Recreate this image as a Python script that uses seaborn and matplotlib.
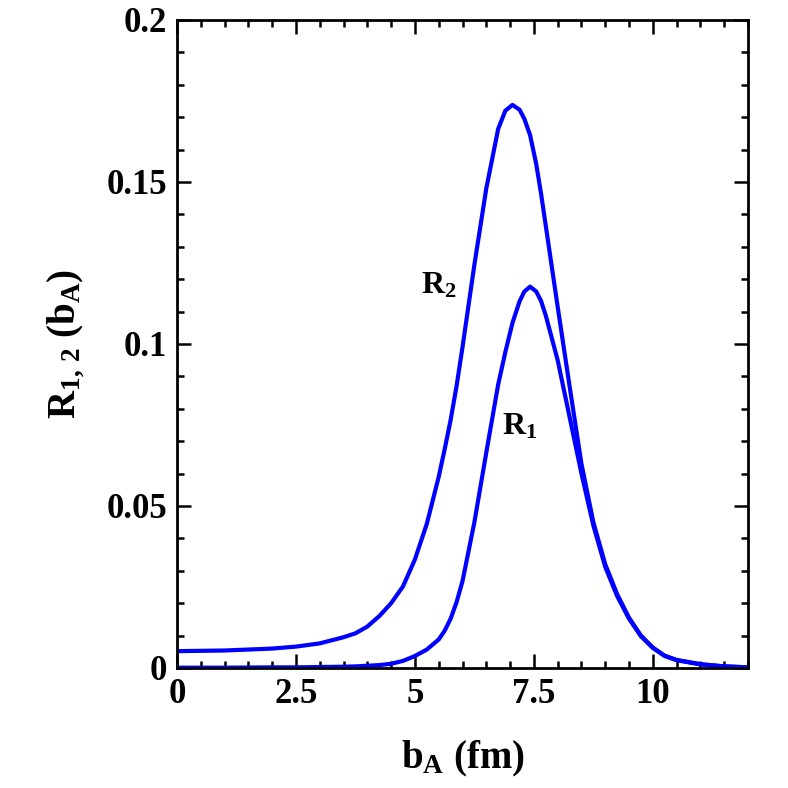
import numpy as np
import pandas as pd
import seaborn as sns
import matplotlib
matplotlib.use("Agg")
import matplotlib.pyplot as plt
from matplotlib.ticker import MultipleLocator

b_A = [0, 1, 2, 2.5, 3, 3.5, 3.75, 4, 4.25, 4.5, 4.75, 5, 5.25, 5.5, 5.625, 5.75, 5.875, 6,
       6.25, 6.5, 6.75, 6.9, 7.05, 7.2, 7.3, 7.42, 7.55, 7.65, 7.75, 8, 8.25, 8.5, 8.75,
       9, 9.25, 9.5, 9.75, 10, 10.25, 10.5, 11, 11.5, 12]
R1 = [0.0001, 0.0001, 0.0002, 0.0002, 0.0003, 0.0004, 0.0005, 0.0007, 0.0009, 0.0013,
      0.0022, 0.0037, 0.0057, 0.0088, 0.0115, 0.0152, 0.0203, 0.0268, 0.0450, 0.0665,
      0.0875, 0.0975, 0.1065, 0.1132, 0.1162, 0.1177, 0.1162, 0.1133, 0.1088, 0.0950,
      0.0775, 0.0600, 0.0440, 0.0312, 0.0222, 0.0152, 0.0098, 0.0062, 0.0037, 0.0024,
      0.0011, 0.0005, 0.0002]
R2 = [0.0052, 0.0054, 0.0060, 0.0066, 0.0076, 0.0095, 0.0107, 0.0128, 0.0160, 0.0200,
      0.0252, 0.0335, 0.0445, 0.0590, 0.0675, 0.0765, 0.0870, 0.0990, 0.1245, 0.1480,
      0.1664, 0.1720, 0.1738, 0.1723, 0.1695, 0.1645, 0.1555, 0.1465, 0.1365, 0.1115,
      0.0870, 0.0630, 0.0450, 0.0320, 0.0228, 0.0155, 0.0100, 0.0063, 0.0038, 0.0025,
      0.0012, 0.0005, 0.0002]

df = pd.DataFrame({"b": b_A * 2, "R": R1 + R2,
                   "series": ["R1"] * len(b_A) + ["R2"] * len(b_A)})

sns.set_theme(style="ticks")
plt.rcParams['font.family'] = ['Liberation Serif', 'DejaVu Serif']
plt.rcParams['font.weight'] = 'bold'
plt.rcParams['text.color'] = 'black'
plt.rcParams['axes.labelcolor'] = 'black'
plt.rcParams['xtick.color'] = 'black'
plt.rcParams['ytick.color'] = 'black'
plt.rcParams['mathtext.fontset'] = 'custom'
plt.rcParams['mathtext.rm'] = 'Liberation Serif:bold'
plt.rcParams['mathtext.it'] = 'Liberation Serif:bold'
plt.rcParams['mathtext.bf'] = 'Liberation Serif:bold'

fig = plt.figure(figsize=(7.88, 7.88), dpi=100)
ax = fig.add_axes([177/788, 120/788, (748-177)/788, (668-20)/788])

sns.lineplot(data=df, x="b", y="R", hue="series", palette=["#0000ff", "#0000ff"],
             linewidth=3, legend=False, ax=ax, sort=False)

ax.set_xlim(0, 12)
ax.set_ylim(0, 0.2)
ax.xaxis.set_major_locator(MultipleLocator(2.5))
ax.xaxis.set_minor_locator(MultipleLocator(0.5))
ax.yaxis.set_major_locator(MultipleLocator(0.05))
ax.yaxis.set_minor_locator(MultipleLocator(0.01))
ax.set_xticks([0, 2.5, 5, 7.5, 10])
ax.set_xticklabels(["0", "2.5", "5", "7.5", "10"])
ax.set_yticks([0, 0.05, 0.1, 0.15, 0.2])
ax.set_yticklabels(["0", "0.05", "0.1", "0.15", "0.2"])
ax.tick_params(which='both', direction='in', top=True, right=True, width=1.8, color='black')
ax.tick_params(which='major', length=10, labelsize=25, pad=7)
ax.tick_params(which='minor', length=5)
for lab in ax.get_xticklabels() + ax.get_yticklabels():
    lab.set_fontweight('bold')
    lab.set_color('black')
for s in ax.spines.values():
    s.set_linewidth(2)
    s.set_color('black')

ax.set_xlabel(r"$\mathbf{b_A}$ (fm)", fontsize=28, fontweight='bold', labelpad=20, color='black')
ax.set_ylabel(r"$\mathbf{R_{1,\,2}}$ ($\mathbf{b_A}$)", fontsize=28, fontweight='bold', labelpad=14, color='black')

ax.text(5.5, 0.118, r"$\mathbf{R_2}$", fontsize=23, ha='center', va='center', color='black')
ax.text(7.2, 0.0745, r"$\mathbf{R_1}$", fontsize=23, ha='center', va='center', color='black')

fig.savefig("out.png", dpi=100)
